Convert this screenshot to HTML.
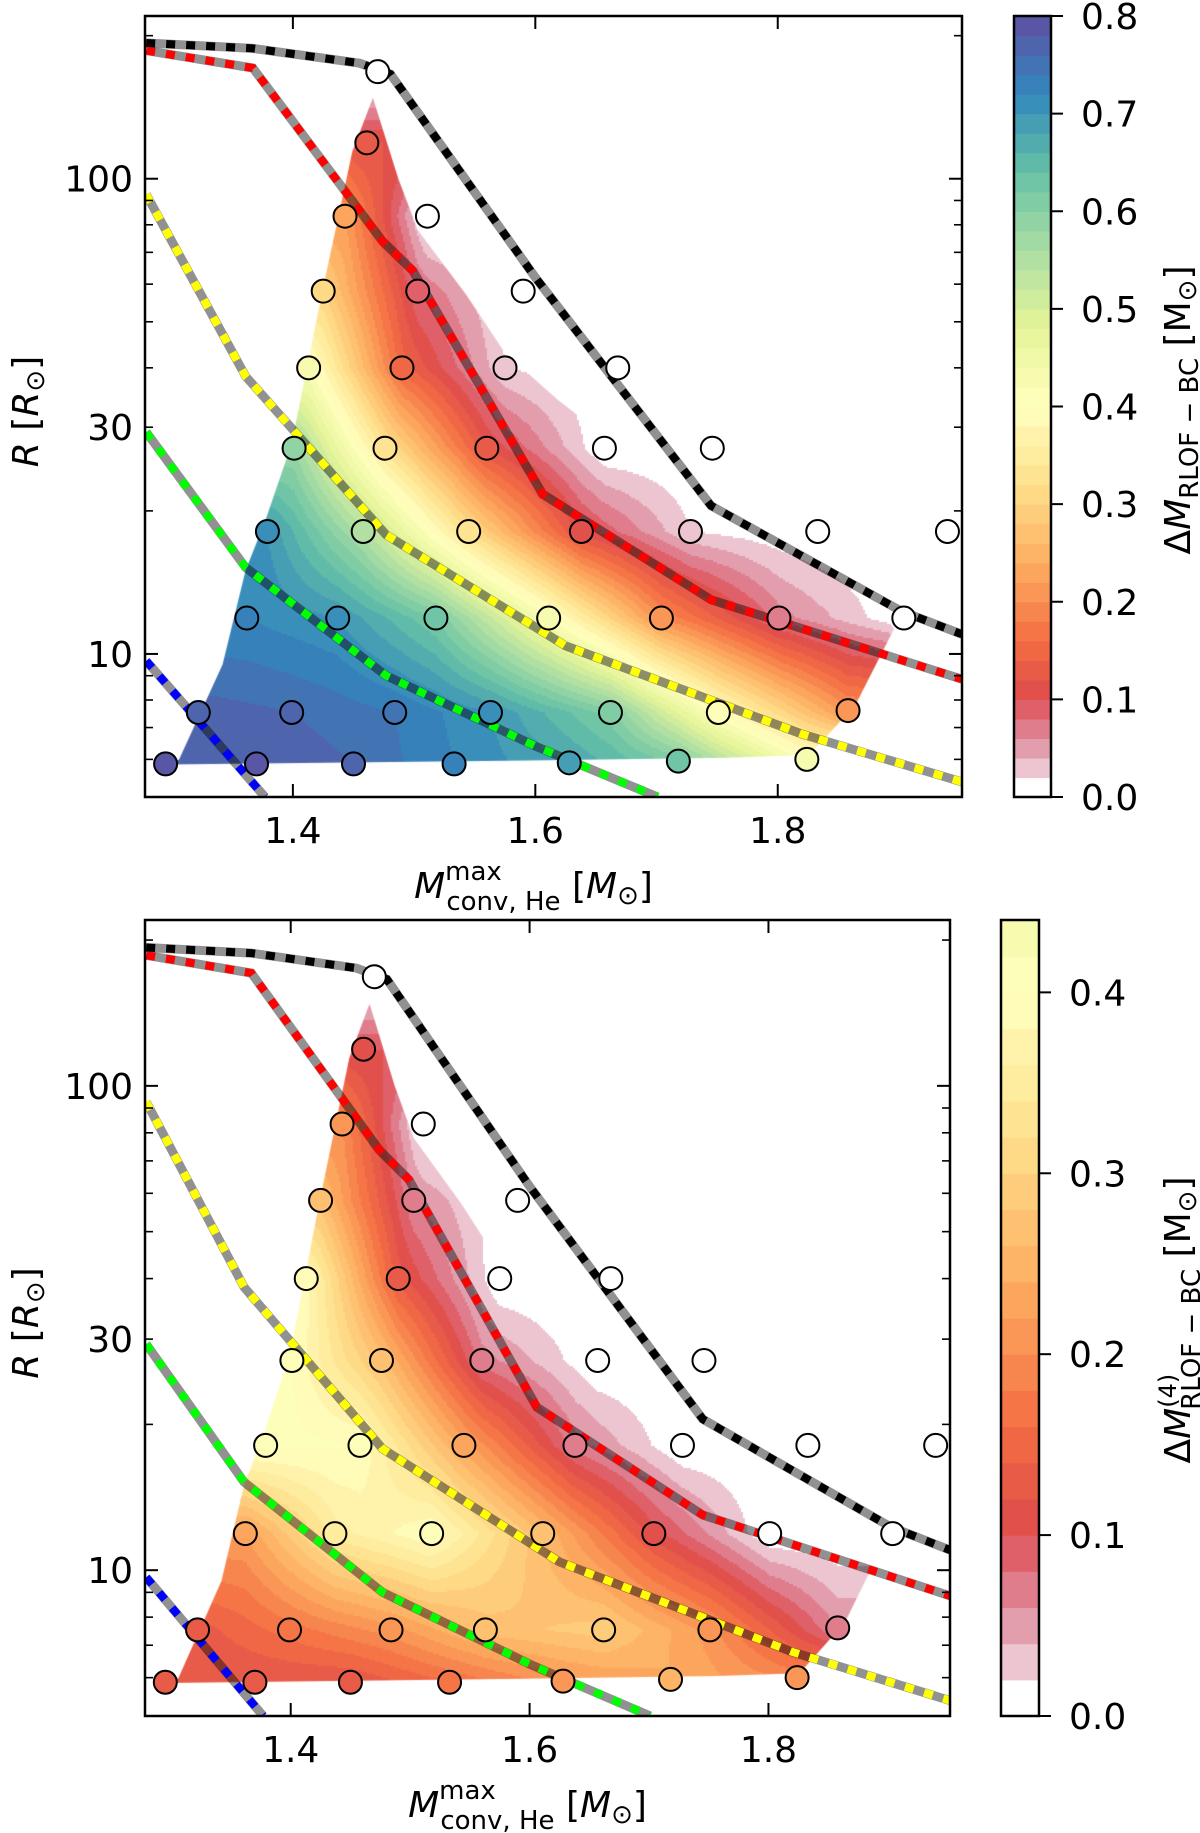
<!DOCTYPE html>
<html><head><meta charset="utf-8">
<style>
html,body{margin:0;padding:0;background:#fff;}
#wrap{position:relative;width:1200px;height:1833px;overflow:hidden;font-family:"DejaVu Sans","Liberation Sans",sans-serif;}
canvas{position:absolute;left:0;top:0;}
svg{position:absolute;left:0;top:0;}
</style></head>
<body>
<div id="wrap">
<canvas id="cv" width="1200" height="1833"></canvas>
<svg id="sv" width="1200" height="1833" xmlns="http://www.w3.org/2000/svg"></svg>
</div>
<script>
// ---- data ----
const pointX = [1.295,1.370,1.450,1.533,1.628,1.718,1.824,
  1.322,1.399,1.484,1.563,1.662,1.751,1.858,
  1.362,1.437,1.518,1.611,1.704,1.801,1.904,
  1.379,1.458,1.545,1.638,1.728,1.833,1.940,
  1.401,1.476,1.560,1.657,1.746,
  1.413,1.490,1.575,1.668,
  1.425,1.503,1.590,
  1.443,1.511,
  1.461,
  1.470];
const pointR = [5.87,5.87,5.87,5.87,5.9,5.95,6.0,
  7.53,7.53,7.53,7.53,7.53,7.53,7.6,
  11.9,11.9,11.9,11.9,11.9,11.9,11.9,
  18.1,18.1,18.1,18.1,18.1,18.1,18.1,
  27.1,27.1,27.1,27.1,27.1,
  40,40,40,40,
  58,58,58,
  83.4,83.4,
  119,
  168];
const valuesTop = [0.78,0.78,0.76,0.72,0.68,0.62,0.42,
  0.77,0.76,0.74,0.70,0.61,0.40,0.21,
  0.72,0.70,0.62,0.42,0.20,0.07,0.0,
  0.70,0.55,0.32,0.11,0.02,0.0,0.0,
  0.58,0.33,0.12,0.0,0.0,
  0.42,0.15,0.02,0.0,
  0.30,0.08,0.0,
  0.22,0.0,
  0.12,
  0.0];
const valuesBottom = [0.12,0.12,0.12,0.16,0.21,0.24,0.20,
  0.13,0.17,0.21,0.27,0.29,0.21,0.06,
  0.22,0.35,0.40,0.26,0.11,0.0,0.0,
  0.41,0.40,0.23,0.07,0.0,0.0,0.0,
  0.40,0.27,0.07,0.0,0.0,
  0.39,0.13,0.0,0.0,
  0.27,0.06,0.0,
  0.20,0.0,
  0.10,
  0.0];
const hullX = [1.295,1.306,1.342,1.361,1.377,1.399,1.424,1.449,1.466,1.487,1.503,1.543,1.575,1.619,1.694,1.745,1.801,1.845,1.896,1.864,1.826,1.757,1.594,1.295];
const hullR = [5.85,5.99,9.5,15.0,19,27.7,57.5,114,148,100,78,57,43,34.2,24.3,20,17.8,16.7,11.3,7.8,6.13,6.05,5.97,5.85];
const lineBlackX = [1.279,1.367,1.455,1.4805,1.600,1.745,1.902,1.952];
const lineBlackR = [193,188,175,166,62,20.5,12.3,11.0];
const lineRedX = [1.279,1.367,1.474,1.499,1.606,1.745,1.952];
const lineRedR = [186,171,73.8,64,21.7,13.0,8.85];
const lineYellowX = [1.279,1.361,1.477,1.625,1.820,1.952];
const lineYellowR = [92.7,38.4,17.8,10.4,6.78,5.38];
const lineGreenX = [1.279,1.361,1.477,1.600,1.701];
const lineGreenR = [29.3,15.2,9.0,6.4,5.0];
const lineBlueX = [1.279,1.377];
const lineBlueR = [9.67,5.0];
const xTicks = [1.4,1.6,1.8];
const xTickLabels = ["1.4","1.6","1.8"];
const yMajor = [10,100];
const yMinor = [6,7,8,9,20,30,40,50,60,70,80,90,200];
const yLabels = [[10,"10"],[30,"30"],[100,"100"]];
const cbTicksTop = [0,0.1,0.2,0.3,0.4,0.5,0.6,0.7,0.8];
const cbTicksBottom = [0,0.1,0.2,0.3,0.4];

// ---- helpers ----
const NS="http://www.w3.org/2000/svg";
const sv=document.getElementById('sv');
const ctx=document.getElementById('cv').getContext('2d');
function el(tag,attrs,parent,text){const e=document.createElementNS(NS,tag);for(const k in attrs)e.setAttribute(k,attrs[k]);if(text!==undefined)e.textContent=text;(parent||sv).appendChild(e);return e;}
const stops=[[158,1,66],[213,62,79],[244,109,67],[253,174,97],[254,224,139],[255,255,191],[230,245,152],[171,221,164],[102,194,165],[50,136,189],[94,79,162]];
function spectral(s){s=Math.max(0,Math.min(1,s));const f=s*10;const i=Math.min(9,Math.floor(f));const t=f-i;const a=stops[i],b=stops[i+1];return [a[0]+(b[0]-a[0])*t,a[1]+(b[1]-a[1])*t,a[2]+(b[2]-a[2])*t];}
function levelColor(lvl){
  if(lvl<0.019) return null;
  const c=spectral(lvl/0.8+0.0125);const a=Math.min(1,lvl*10+0.05);
  return [Math.round(255+(c[0]-255)*a),Math.round(255+(c[1]-255)*a),Math.round(255+(c[2]-255)*a)];
}
const XMIN=1.278,XMAX=1.952,YMIN=5,YMAX=220;

// group points into rows (by R) for row-wise linear interpolation
function buildRows(vals){
  const rows=[];
  for(let k=0;k<pointX.length;k++){
    let r=rows.find(o=>Math.abs(Math.log10(o.r)-Math.log10(pointR[k]))<0.03);
    if(!r){r={r:pointR[k],xs:[],vs:[]};rows.push(r);}
    r.xs.push(pointX[k]);r.vs.push(vals[k]);
  }
  rows.forEach(r=>{r.ly=Math.log10(r.r);});
  rows.sort((a,b)=>a.ly-b.ly);
  return rows;
}
function rowVal(r,x){
  const n=r.xs.length;
  if(n===1||x<=r.xs[0])return r.vs[0];
  if(x>=r.xs[n-1])return r.vs[n-1];
  for(let i=0;i<n-1;i++){if(x<=r.xs[i+1]){const t=(x-r.xs[i])/(r.xs[i+1]-r.xs[i]);return r.vs[i]+(r.vs[i+1]-r.vs[i])*t;}}
  return r.vs[n-1];
}
function field(rows,x,ly){
  if(ly<=rows[0].ly)return rowVal(rows[0],x);
  for(let i=0;i<rows.length-1;i++){
    if(ly<=rows[i+1].ly){const t=(ly-rows[i].ly)/(rows[i+1].ly-rows[i].ly);return rowVal(rows[i],x)*(1-t)+rowVal(rows[i+1],x)*t;}
  }
  return rowVal(rows[rows.length-1],x);
}

function panel(P){
  const sx=v=>P.x0+(v-XMIN)/(XMAX-XMIN)*(P.x1-P.x0);
  const sy=v=>P.y1-(Math.log10(v)-Math.log10(YMIN))/(Math.log10(YMAX)-Math.log10(YMIN))*(P.y1-P.y0);
  const ix=X=>XMIN+(X-P.x0)/(P.x1-P.x0)*(XMAX-XMIN);
  const iy=Y=>Math.log10(YMIN)+(P.y1-Y)/(P.y1-P.y0)*(Math.log10(YMAX)-Math.log10(YMIN));
  const g=el('g',{});
  
  
  const rows=buildRows(P.vals);
  const hx=hullX.map(sx), hy=hullR.map(sy);
  ctx.save();ctx.beginPath();ctx.moveTo(hx[0],hy[0]);for(let i=1;i<hx.length;i++)ctx.lineTo(hx[i],hy[i]);ctx.closePath();ctx.clip();
  const step=2;
  for(let X=P.x0;X<P.x1;X+=step){for(let Y=P.y0;Y<P.y1;Y+=step){
    const v=field(rows,ix(X+1),iy(Y+1));
    const lvl=Math.floor(v/0.02+1e-6)*0.02;
    const c=levelColor(lvl);if(!c)continue;
    ctx.fillStyle='rgb('+c[0]+','+c[1]+','+c[2]+')';ctx.fillRect(X,Y,step,step);
  }}
  ctx.restore();
  const clipId='clip'+P.id;
  const cp=el('clipPath',{id:clipId},g);el('rect',{x:P.x0,y:P.y0,width:P.x1-P.x0,height:P.y1-P.y0},cp);
  const lines=[[lineBlackX,lineBlackR,'#000','black'],[lineRedX,lineRedR,'#ff0000','red'],[lineYellowX,lineYellowR,'#ffff00','yellow'],[lineGreenX,lineGreenR,'#00ff00','green'],[lineBlueX,lineBlueR,'#0000ff','blue']];
  lines.forEach(L=>{
    const pts=L[0].map((x,i)=>sx(x).toFixed(1)+','+sy(L[1][i]).toFixed(1)).join(' ');
    const a=el('polyline',{points:pts,fill:'none',stroke:'#000','stroke-opacity':0.43,'stroke-width':9,'clip-path':'url(#'+clipId+')'},g);
    
    
    const b=el('polyline',{points:pts,fill:'none',stroke:L[2],'stroke-width':8,'stroke-dasharray':'9 11','clip-path':'url(#'+clipId+')'},g);
    
    
  });
  for(let k=0;k<pointX.length;k++){
    const lvl=Math.floor(P.vals[k]/0.02+1e-6)*0.02;const c=levelColor(lvl)||[255,255,255];
    const ci=el('circle',{cx:sx(pointX[k]),cy:sy(pointR[k]),r:11.5,fill:'rgb('+c.join(',')+')',stroke:'#000','stroke-width':2},g);
    
    
  }
  const fr=el('rect',{x:P.x0,y:P.y0,width:P.x1-P.x0,height:P.y1-P.y0,fill:'none',stroke:'#000','stroke-width':2.5},g);
  
  
  xTicks.forEach((t,i)=>{const x=sx(t);
    el('line',{x1:x,x2:x,y1:P.y1,y2:P.y1-13,stroke:'#000','stroke-width':2},g);
    el('line',{x1:x,x2:x,y1:P.y0,y2:P.y0+13,stroke:'#000','stroke-width':2},g);
    const tl=el('text',{x:x,y:P.y1+46,'text-anchor':'middle','font-size':36},g,xTickLabels[i]);
    
    
  });
  yMajor.forEach(t=>{const y=sy(t);
    el('line',{x1:P.x0,x2:P.x0+13,y1:y,y2:y,stroke:'#000','stroke-width':2},g);
    el('line',{x1:P.x1,x2:P.x1-13,y1:y,y2:y,stroke:'#000','stroke-width':2},g);});
  yMinor.forEach(t=>{const y=sy(t);
    el('line',{x1:P.x0,x2:P.x0+8,y1:y,y2:y,stroke:'#000','stroke-width':1.6},g);
    el('line',{x1:P.x1,x2:P.x1-8,y1:y,y2:y,stroke:'#000','stroke-width':1.6},g);});
  yLabels.forEach(L=>{const tl=el('text',{x:P.x0-12,y:sy(L[0])+13,'text-anchor':'end','font-size':36},g,L[1]);
    
    });
  const xl=el('text',{x:(P.x0+P.x1)/2-20,y:P.y1+101,'text-anchor':'middle','font-size':36},g);
  
  
  xl.innerHTML='<tspan font-style="italic">M</tspan><tspan font-size="26" dy="-18">max</tspan><tspan font-size="26" dx="-55" dy="30">conv, He</tspan><tspan dy="-12"> [</tspan><tspan font-style="italic">M</tspan><tspan font-size="26" dy="6">⊙</tspan><tspan dy="-6">]</tspan>';
  const cy=(P.y0+P.y1)/2;
  const yl=el('text',{x:0,y:0,'text-anchor':'middle','font-size':36,transform:'translate(38,'+(cy+5)+') rotate(-90)'},g);
  
  
  yl.innerHTML='<tspan font-style="italic">R</tspan> [<tspan font-style="italic">R</tspan><tspan font-size="26" dy="6">⊙</tspan><tspan dy="-6">]</tspan>';
  const cg=el('g',{},g);
  
  
  const cbY=v=>P.y1-v/P.cbMax*(P.y1-P.y0);
  for(let lv=0;lv<P.cbMax-1e-6;lv+=0.02){const top=Math.min(lv+0.02,P.cbMax);const c=levelColor(lv+1e-9)||[255,255,255];
    const r=el('rect',{x:P.cx0,y:cbY(top),width:P.cx1-P.cx0,height:cbY(lv)-cbY(top)+0.6,fill:'rgb('+c.join(',')+')'},cg);
    
    }
  el('rect',{x:P.cx0,y:P.y0,width:P.cx1-P.cx0,height:P.y1-P.y0,fill:'none',stroke:'#000','stroke-width':2.5},cg);
  P.cbTicks.forEach(t=>{const y=cbY(t);
    el('line',{x1:P.cx1,x2:P.cx1+12,y1:y,y2:y,stroke:'#000','stroke-width':2},cg);
    const tl=el('text',{x:P.cx1+30,y:y+13,'font-size':36},cg,t.toFixed(1));
    
    });
  const cl=el('text',{x:0,y:0,'text-anchor':'middle','font-size':36,transform:'translate(1190,'+(P.clY)+') rotate(-90)'},cg);
  
  
  cl.innerHTML=P.cbLabel;
}
panel({id:1,name:'top-panel',x0:145,x1:962,y0:16,y1:797,vals:valuesTop,cx0:1014,cx1:1051,cbMax:0.8,cbTicks:cbTicksTop,clY:410,
  cbLabel:'Δ<tspan font-style="italic">M</tspan><tspan font-size="26" dy="8">RLOF − BC</tspan><tspan dy="-8"> [M</tspan><tspan font-size="26" dy="6">⊙</tspan><tspan dy="-6">]</tspan>'});
panel({id:2,name:'bottom-panel',x0:145,x1:950,y0:920,y1:1716,vals:valuesBottom,cx0:1001,cx1:1039,cbMax:0.44,cbTicks:cbTicksBottom,clY:1320,
  cbLabel:'Δ<tspan font-style="italic">M</tspan><tspan font-size="24" dy="-14">(4)</tspan><tspan font-size="26" dx="-36" dy="24">RLOF − BC</tspan><tspan dy="-10"> [M</tspan><tspan font-size="26" dy="6">⊙</tspan><tspan dy="-6">]</tspan>'});
</script>
</body></html>
